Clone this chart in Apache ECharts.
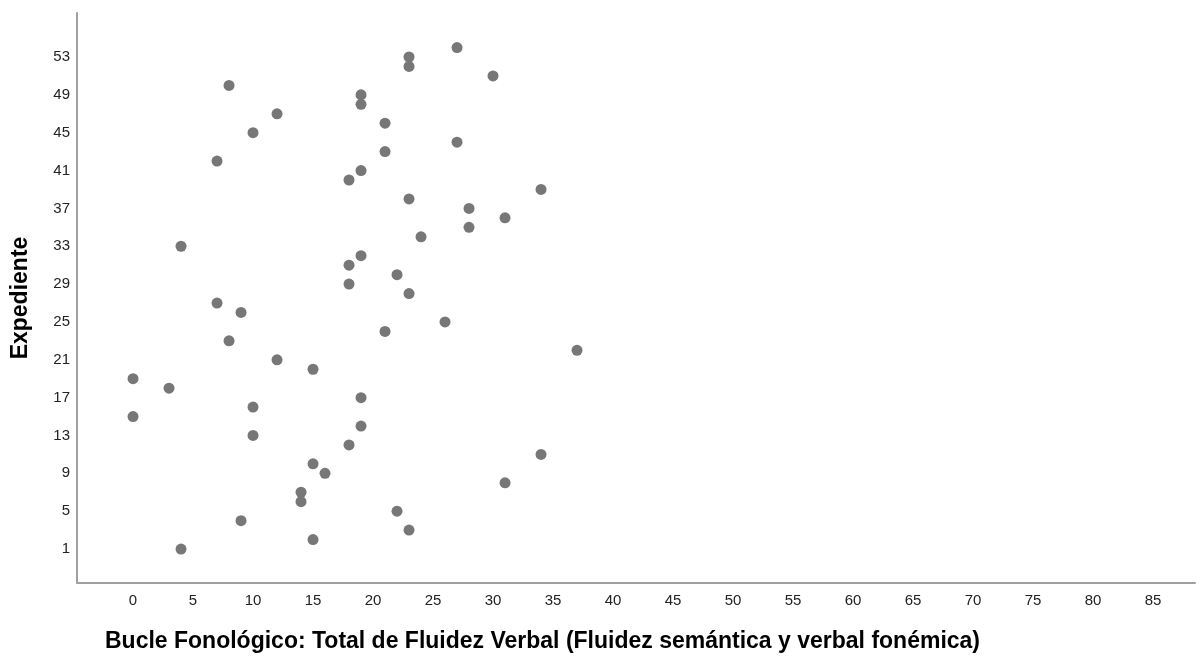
<!DOCTYPE html>
<html>
<head>
<meta charset="utf-8">
<script src="https://cdn.jsdelivr.net/npm/echarts@6/dist/echarts.min.js"></script>
<style>html,body{margin:0;padding:0;background:#fff}#c{width:1197px;height:656px}</style>
</head>
<body>
<div id="c"></div>
<script>
const fluidez = [4,15,23,9,22,14,14,31,16,15,34,18,10,19,0,10,19,3,0,15,12,37,8,21,26,9,7,23,18,22,18,19,4,24,28,31,28,23,34,18,19,7,21,27,10,21,12,19,19,8,30,23,23,27];
const expediente = [1,2,3,4,5,6,7,8,9,10,11,12,13,14,15,16,17,18,19,20,21,22,23,24,25,26,27,28,29,30,31,32,33,34,35,36,37,38,39,40,41,42,43,44,45,46,47,48,49,50,51,52,53,54];
const xTicks = [0,5,10,15,20,25,30,35,40,45,50,55,60,65,70,75,80,85];
const yTicks = [1,5,9,13,17,21,25,29,33,37,41,45,49,53];
const xTitle = 'Bucle Fonológico: Total de Fluidez Verbal (Fluidez semántica y verbal fonémica)';
const yTitle = 'Expediente';

const points = fluidez.map((v, i) => [v, expediente[i]]);
const chart = echarts.init(document.getElementById('c'));
const font = 'Arial, "Liberation Sans", sans-serif';
chart.setOption({
  animation: false,
  grid: {left: 77, top: 13, right: 2, bottom: 73, containLabel: false, outerBoundsMode: 'none'},
  title: {
    text: xTitle, left: 100, top: 625,
    textStyle: {fontFamily: font, fontSize: 23, fontWeight: 'bold', color: '#000'}
  },
  xAxis: {
    type: 'value', min: -4.67, max: 88.5,
    axisLine: {show: true, onZero: false, lineStyle: {color: '#a0a0a0', width: 2}},
    axisTick: {show: false},
    splitLine: {show: false},
    axisLabel: {customValues: xTicks, color: '#222', fontFamily: font, fontSize: 15, margin: 10}
  },
  yAxis: {
    type: 'value', min: -2.59, max: 57.65,
    name: yTitle, nameLocation: 'middle', nameGap: 45, nameRotate: 90,
    nameTextStyle: {fontFamily: font, fontSize: 23, fontWeight: 'bold', color: '#000'},
    axisLine: {show: true, onZero: false, lineStyle: {color: '#a0a0a0', width: 2}},
    axisTick: {show: false},
    splitLine: {show: false},
    axisLabel: {customValues: yTicks, color: '#222', fontFamily: font, fontSize: 15, margin: 7}
  },
  series: [{
    type: 'scatter', data: points, symbolSize: 11,
    itemStyle: {color: '#777777', opacity: 1}
  }]
});
</script>
</body>
</html>
